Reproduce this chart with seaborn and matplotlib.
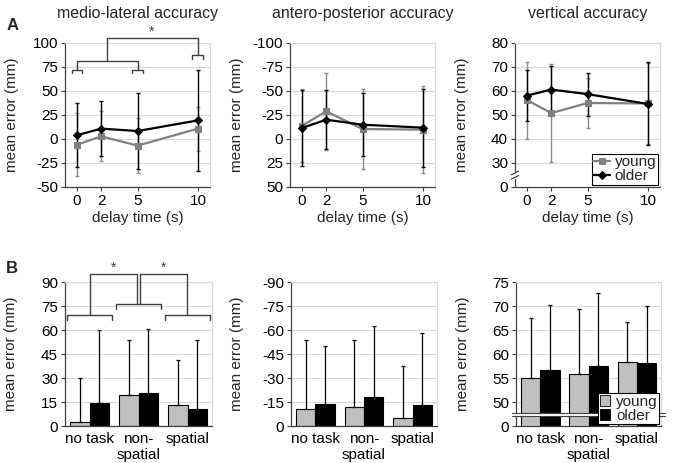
import matplotlib
matplotlib.use("Agg")
import matplotlib.pyplot as plt
import pandas as pd
import seaborn as sns
from matplotlib.patches import Patch

sns.set_style("white")
plt.rcParams['font.family'] = ['Liberation Sans', 'DejaVu Sans']
plt.rcParams['axes.unicode_minus'] = False
plt.rcParams['font.size'] = 11

# ---- data (mean error in mm, with SD) ----
delays = [0, 2, 5, 10]
groups = ["young", "older"]

ml_young = [-5.9, 2.8, -6.9, 10.8]
ml_young_sd = [33.0, 26.0, 28.5, 23.0]
ml_older = [4.0, 10.8, 8.3, 19.4]
ml_older_sd = [33.5, 29.0, 39.5, 52.6]

ap_young = [-13.9, -28.8, -10.4, -9.7]
ap_young_sd = [38.0, 40.0, 42.0, 45.0]
ap_older = [-11.5, -20.1, -14.9, -11.8]
ap_older_sd = [40.0, 30.7, 33.0, 40.5]

v_young = [56.2, 50.8, 55.0, 54.8]
v_young_sd = [16.0, 20.5, 10.4, 17.0]
v_older = [58.1, 60.6, 58.7, 54.6]
v_older_sd = [10.5, 9.7, 9.0, 17.3]

tasks = ["no task", "non-\nspatial", "spatial"]
bml_young = [2.3, 19.3, 12.9]
bml_young_sd = [27.4, 34.3, 28.1]
bml_older = [14.1, 20.8, 10.8]
bml_older_sd = [45.8, 40.1, 42.8]

bap_young = [-10.4, -11.6, -5.2]
bap_young_sd = [43.2, 42.4, 32.4]
bap_older = [-13.5, -18.3, -13.1]
bap_older_sd = [36.4, 44.1, 45.1]

bv_young = [55.0, 55.9, 58.4]
bv_young_sd = [12.6, 13.5, 8.2]
bv_older = [56.6, 57.5, 58.2]
bv_older_sd = [13.7, 15.3, 11.8]

LINE_COLS = {"young": "#808080", "older": "black"}
BAR_COLS = {"young": "#BFBFBF", "older": "black"}
DARK = "#404040"
GRID = "#D9D9D9"
FS = 11


def style(ax):
    ax.grid(axis='y', color=GRID, lw=0.8)
    ax.grid(axis='x', visible=False)
    ax.set_axisbelow(True)
    for s in ['top', 'right']:
        ax.spines[s].set_color(GRID)
        ax.spines[s].set_linewidth(0.8)
    for s in ['left', 'bottom']:
        ax.spines[s].set_color(DARK)
        ax.spines[s].set_linewidth(0.9)
    ax.tick_params(axis='both', direction='out', length=3, width=0.8,
                   color=DARK, labelsize=FS, labelcolor='black', pad=2)
    ax.tick_params(axis='y', left=True)
    ax.tick_params(axis='x', bottom=True)
    ax.set_ylabel("mean error (mm)", fontsize=FS)
    ax.yaxis.set_label_coords(-0.32, 0.5)


def line_panel(ax, young, young_sd, older, older_sd):
    df = pd.DataFrame({"delay": delays * 2,
                       "group": ["young"] * 4 + ["older"] * 4,
                       "error": young + older})
    sns.lineplot(data=df, x="delay", y="error", hue="group", style="group",
                 palette=LINE_COLS, markers={"young": "s", "older": "D"},
                 dashes=False, markersize=4.5, linewidth=1.6,
                 legend=False, ax=ax, zorder=4)
    lines = list(ax.lines)
    for ln in lines:
        ln.set_markeredgecolor(ln.get_color())
    ax.errorbar(delays, young, yerr=young_sd, fmt='none', ecolor='#8C8C8C',
                elinewidth=1, capsize=1.5, capthick=1, zorder=2)
    ax.errorbar(delays, older, yerr=older_sd, fmt='none', ecolor='black',
                elinewidth=1, capsize=1.5, capthick=1, zorder=3)
    ax.set_xlim(-1, 11)
    ax.set_xticks(delays)
    ax.set_xlabel("delay time (s)", fontsize=FS, labelpad=2)
    style(ax)
    return lines


def bar_panel(ax, young, young_sd, older, older_sd):
    df = pd.DataFrame({"task": tasks * 2,
                       "group": ["young"] * 3 + ["older"] * 3,
                       "error": young + older})
    sns.barplot(data=df, x="task", y="error", hue="group", palette=BAR_COLS,
                edgecolor="black", linewidth=0.8, width=0.8, saturation=1,
                errorbar=None, legend=False, ax=ax, zorder=2)
    for cont, vals, sds in zip(ax.containers, [young, older], [young_sd, older_sd]):
        xs = [b.get_x() + b.get_width() / 2 for b in cont]
        lo = [s if v < 0 else 0 for v, s in zip(vals, sds)]
        hi = [s if v >= 0 else 0 for v, s in zip(vals, sds)]
        ax.errorbar(xs, vals, yerr=[lo, hi], fmt='none', ecolor='black',
                    elinewidth=0.9, capsize=1.5, capthick=0.9, zorder=3)
    ax.set_xlim(-0.5, 2.5)
    ax.set_xlabel("")
    style(ax)
    ax.set_xticks([-0.5, 0.5, 1.5, 2.5], minor=True)
    ax.tick_params(axis='x', which='major', length=0, pad=4)
    ax.tick_params(axis='x', which='minor', length=4, width=0.8, color=DARK)


def bracket(ax, x0, x1, y, drop):
    ax.plot([x0, x0, x1, x1], [y - drop, y, y, y - drop], color=DARK,
            lw=1, clip_on=False, zorder=5)


def join(ax, x0, y0, x1, y1, ytop):
    ax.plot([x0, x0, x1, x1], [y0, ytop, ytop, y1], color=DARK,
            lw=1, clip_on=False, zorder=5)


fig = plt.figure(figsize=(6.74, 4.63), dpi=100)
W = 145 / 674
H = 144 / 463
top_b = 1 - 187 / 463
bot_b = 1 - 426 / 463
ax1 = fig.add_axes([65 / 674, top_b, W, H])
ax2 = fig.add_axes([290 / 674, top_b, W, H])
ax3 = fig.add_axes([515 / 674, top_b, W, H])
ax4 = fig.add_axes([65 / 674, bot_b, 147 / 674, H])
ax5 = fig.add_axes([291 / 674, bot_b, 146 / 674, H])
ax6 = fig.add_axes([516 / 674, bot_b, 145 / 674, H])

# ---- A: medio-lateral ----
line_panel(ax1, ml_young, ml_young_sd, ml_older, ml_older_sd)
ax1.set_ylim(-50, 100)
ax1.set_yticks(range(-50, 101, 25))
bracket(ax1, -0.45, 0.4, 72, 3.5)
bracket(ax1, 4.55, 5.45, 72, 3.5)
bracket(ax1, 9.55, 10.45, 87.8, 4)
join(ax1, 0, 72, 5, 72, 80.9)
join(ax1, 2.5, 80.9, 10, 87.8, 105)
ax1.text(6.2, 104.5, "*", ha='center', va='bottom', fontsize=10, color=DARK)

# ---- A: antero-posterior ----
line_panel(ax2, ap_young, ap_young_sd, ap_older, ap_older_sd)
ax2.set_ylim(50, -100)
ax2.set_yticks(range(-100, 51, 25))

# ---- A: vertical ----
lines = line_panel(ax3, v_young, v_young_sd, v_older, v_older_sd)
ax3.set_ylim(20, 80)
ax3.set_yticks(range(20, 81, 10))
ax3.set_yticklabels(["0", "30", "40", "50", "60", "70", "80"])
ax3.grid(False)
for yv in range(30, 81, 10):
    ax3.axhline(yv, color=GRID, lw=0.8, zorder=0)
ax3.add_patch(plt.Rectangle((-0.02, 0.06), 0.04, 0.045, transform=ax3.transAxes,
                            color='white', clip_on=False, zorder=6))
for dy in (0.0, 0.03):
    ax3.plot([-0.025, 0.025], [0.055 + dy, 0.08 + dy], transform=ax3.transAxes,
             color=DARK, lw=0.9, clip_on=False, zorder=7)
leg = ax3.legend(handles=lines, labels=groups, loc='lower right', fontsize=FS,
                 frameon=True, fancybox=False, framealpha=1, edgecolor='black',
                 handlelength=1.1, handletextpad=0.3, borderpad=0.1,
                 labelspacing=0.0, borderaxespad=0.15)
leg.get_frame().set_linewidth(0.8)

# ---- B: bars ----
bar_panel(ax4, bml_young, bml_young_sd, bml_older, bml_older_sd)
ax4.set_ylim(0, 90)
ax4.set_yticks(range(0, 91, 15))
bracket(ax4, -0.45, 0.45, 69.2, 2.7)
bracket(ax4, 0.55, 1.45, 76.1, 2.7)
bracket(ax4, 1.55, 2.45, 69.2, 2.7)
join(ax4, 0.0, 69.2, 0.96, 76.1, 94.8)
join(ax4, 1.04, 76.1, 1.98, 69.2, 94.8)
ax4.text(0.49, 94.5, "*", ha='center', va='bottom', fontsize=10, color=DARK)
ax4.text(1.51, 94.5, "*", ha='center', va='bottom', fontsize=10, color=DARK)

bar_panel(ax5, bap_young, bap_young_sd, bap_older, bap_older_sd)
ax5.set_ylim(0, -90)
ax5.set_yticks(range(-90, 1, 15))

bar_panel(ax6, bv_young, bv_young_sd, bv_older, bv_older_sd)
ax6.set_ylim(45, 75)
ax6.set_yticks(range(45, 76, 5))
ax6.set_yticklabels(["0", "50", "55", "60", "65", "70", "75"])
ax6.grid(False)
for yv in range(50, 76, 5):
    ax6.axhline(yv, color=GRID, lw=0.8, zorder=0)
ax6.add_patch(plt.Rectangle((-0.03, 0.07), 1.06, 0.022, transform=ax6.transAxes,
                            facecolor='white', edgecolor='none', clip_on=False, zorder=6))
for yy in (0.07, 0.092):
    ax6.plot([-0.03, 1.03], [yy, yy], transform=ax6.transAxes, color=DARK,
             lw=0.8, clip_on=False, zorder=7)
handles = [Patch(facecolor=BAR_COLS[g], edgecolor='black', lw=0.6) for g in groups]
leg2 = ax6.legend(handles=handles, labels=groups, loc='lower right', fontsize=FS,
                  frameon=True, fancybox=False, framealpha=1, edgecolor='black',
                  handlelength=0.7, handleheight=0.7, handletextpad=0.4,
                  borderpad=0.1, labelspacing=0.0, borderaxespad=0.1)
leg2.get_frame().set_linewidth(0.8)
leg2.set_zorder(10)

# titles and panel letters
ax1.set_title("medio-lateral accuracy", fontsize=11.5, pad=18)
ax2.set_title("antero-posterior accuracy", fontsize=11.5, pad=18)
ax3.set_title("vertical accuracy", fontsize=11.5, pad=18)
fig.text(0.018, 0.944, "A", fontsize=12, fontweight='bold', ha='center', va='center')
fig.text(0.018, 0.421, "B", fontsize=12, fontweight='bold', ha='center', va='center')

fig.savefig("out.png", dpi=100)
